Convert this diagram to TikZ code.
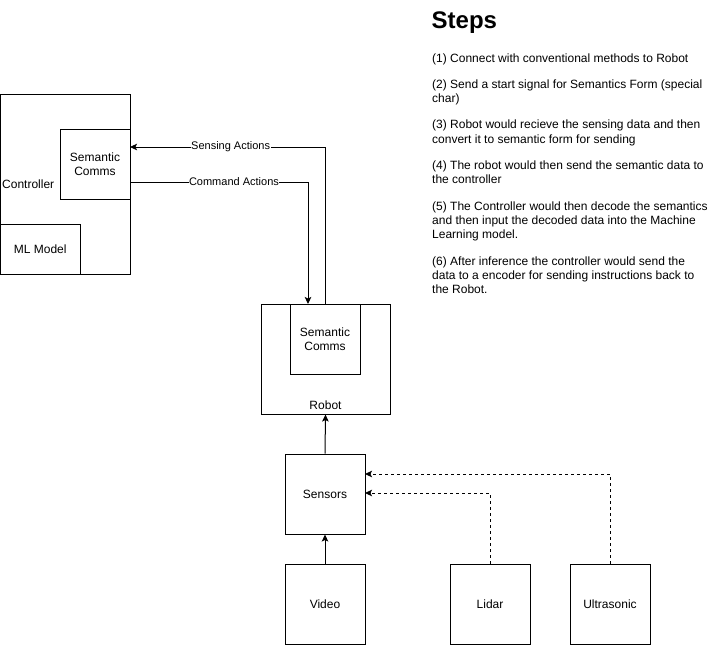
\documentclass[tikz,border=0pt]{standalone}
\usepackage{fontspec}
\setmainfont{Liberation Sans}
\usetikzlibrary{arrows.meta}
\begin{document}
\begin{tikzpicture}[x=1pt,y=-1pt,
  box/.style={draw=black, line width=1pt, inner sep=0pt, align=center,
    font=\fontsize{12}{14.3}\selectfont},
  plain/.style={inner sep=0pt, font=\fontsize{12}{14.3}\selectfont},
  link/.style={line width=1pt, draw=black,
    -{Stealth[length=7pt,width=6.5pt,inset=1.5pt]}},
  dlink/.style={link, dash pattern=on 3pt off 3pt},
  tag/.style={fill=white, inner sep=0.5pt, font=\fontsize{11}{13}\selectfont},
  note/.style={anchor=base west, align=left, inner sep=0pt,
    font=\fontsize{12}{14.3}\selectfont}
]
\useasboundingbox (0,0) rectangle (711,646);

% controller side
\node[box, minimum width=129.5pt, minimum height=180pt] (ctrl) at (65.25,184) {};
\node[plain, anchor=base west] (ctrllbl) at (2,188) {Controller};
\node[box, minimum width=70pt, minimum height=70pt] (csem) at (95,164) {Semantic\\Comms};
\node[box, minimum width=79.5pt, minimum height=50pt] (ml) at (40.25,249) {ML Model};

% robot side
\node[box, minimum width=129pt, minimum height=110pt] (robot) at (325.5,359) {};
\node[box, minimum width=70pt, minimum height=70pt] (rsem) at (325,339) {Semantic\\Comms};
\node[plain, anchor=base] (robotlbl) at (325.5,409) {Robot};

% sensors
\node[box, minimum width=80pt, minimum height=80pt] (sens) at (325,494) {Sensors};
\node[box, minimum width=80pt, minimum height=80pt] (video) at (325,604) {Video};
\node[box, minimum width=80pt, minimum height=80pt] (lidar) at (490,604) {Lidar};
\node[box, minimum width=80pt, minimum height=80pt] (ultra) at (610,604) {Ultrasonic};

% connector end points on box sides
\coordinate (sIn) at (130,147);
\coordinate (cOut) at (130,182);
\coordinate (cIn) at (308,304);
\coordinate (lIn) at (365,493);
\coordinate (uIn) at (365,474);

\draw[link] (rsem.north) |- (sIn) node[tag, pos=0.742] (senslbl) {Sensing Actions};
\draw[link] (cOut) -| (cIn) node[tag, pos=0.292] (cmdlbl) {Command Actions};
\draw[link] (sens.north) -- (robot.south);
\draw[link] (video.north) -- (sens.south);
\draw[dlink] (lidar.north) |- (lIn);
\draw[dlink] (ultra.north) |- (uIn);

% steps list (base anchor sits on the last line)
\node[anchor=base west, inner sep=0pt, font=\fontsize{24}{28}\selectfont\bfseries] (title) at (431.5,28) {Steps};
\node[note] (steps) at (432,293.6) {%
(1) Connect with conventional methods to Robot\\[12pt]
(2) Send a start signal for Semantics Form (special\\
char)\\[12pt]
(3) Robot would recieve the sensing data and then\\
convert it to semantic form for sending\\[12pt]
(4) The robot would then send the semantic data to\\
the controller\\[12pt]
(5) The Controller would then decode the semantics\\
and then input the decoded data into the Machine\\
Learning model.\\[12pt]
(6) After inference the controller would send the\\
data to a encoder for sending instructions back to\\
the Robot.};
\end{tikzpicture}
\end{document}
